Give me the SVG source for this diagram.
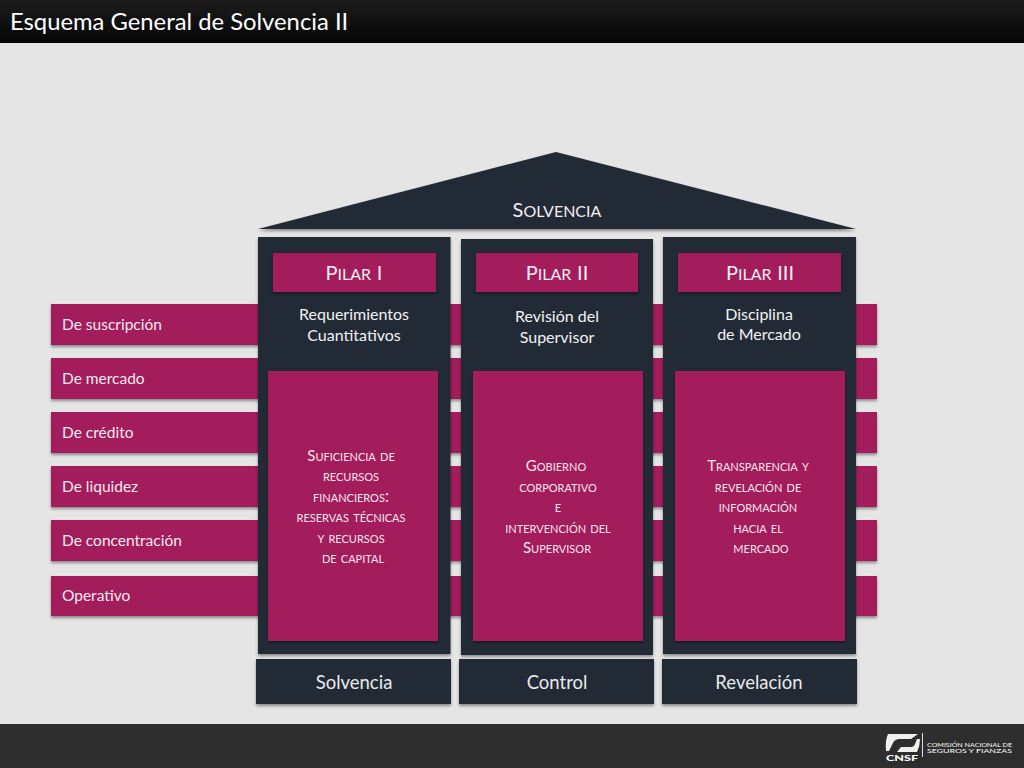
<svg xmlns="http://www.w3.org/2000/svg" width="1024" height="768" viewBox="0 0 1024 768">
<style>
text{font-family:Lato,"Liberation Sans",sans-serif;fill:#fff}
.m{text-anchor:middle}
.lab{font-size:15.5px;fill:#f4eaf0}
.sub{font-size:16px;fill:#f2f3f4}
.cap{font-variant:small-caps;font-size:22.500px;fill:#f4eef2}
.pil{font-variant:small-caps;font-size:22.500px;fill:#f4eef2}
.body{font-variant:small-caps;font-size:16.400px;fill:#f5e6ee}
.i{font-size:15px}
.ic{font-size:20px}
.foot{font-size:18.500px;fill:#e8eaec}
.mag{fill:#a31a5c}
.dark{fill:#212a35}
.s{filter:url(#sh)}
</style>
<defs>
<filter id="sh" x="-10%" y="-10%" width="120%" height="125%"><feDropShadow dx="0" dy="2" stdDeviation="1.6" flood-color="#000" flood-opacity=".4"/></filter>
<linearGradient id="hd" x1="0" y1="0" x2="0" y2="1"><stop offset="0" stop-color="#1c1c1c"/><stop offset="1" stop-color="#050505"/></linearGradient>
</defs>
<rect width="1024" height="768" fill="#e5e5e5"/>
<g id="header"><rect width="1024" height="43" fill="url(#hd)"/><text x="10" y="30" font-size="23.800" fill="#f5f5f5">Esquema General de Solvencia II</text></g>
<g id="footer"><rect y="724" width="1024" height="44" fill="#2e2e2e"/>
<path d="M888 734H918L911 739H899Q894 739 892 745L889 751H886Q885 740 888 734ZM917 739H920Q920 746 917 752H897L901 747H911Q914 747 915 744Z" fill="#f0f0f0"/>
<rect x="922" y="733" width="1" height="24" fill="#ddd"/>
<text x="886" y="761" font-size="7.500" font-weight="900" fill="#f0f0f0" textLength="32" lengthAdjust="spacingAndGlyphs">CNSF</text>
<text x="927" y="747" font-size="6.500" fill="#c8c8c8" textLength="85" lengthAdjust="spacingAndGlyphs">COMISIÓN NACIONAL DE</text>
<text x="927" y="753" font-size="6.500" fill="#c8c8c8" textLength="85" lengthAdjust="spacingAndGlyphs">SEGUROS Y FIANZAS</text>
</g>
<g id="risk-bars">
<g id="risk-suscripcion"><rect class="mag s" x="51" y="304" width="826" height="41"/><text class="lab" x="62" y="330">De suscripción</text></g>
<g id="risk-mercado"><rect class="mag s" x="51" y="358" width="826" height="41"/><text class="lab" x="62" y="384">De mercado</text></g>
<g id="risk-credito"><rect class="mag s" x="51" y="412" width="826" height="41"/><text class="lab" x="62" y="438">De crédito</text></g>
<g id="risk-liquidez"><rect class="mag s" x="51" y="466" width="826" height="41"/><text class="lab" x="62" y="492">De liquidez</text></g>
<g id="risk-concentracion"><rect class="mag s" x="51" y="520" width="826" height="41"/><text class="lab" x="62" y="546">De concentración</text></g>
<g id="risk-operativo"><rect class="mag s" x="51" y="576" width="826" height="40"/><text class="lab" x="62" y="601">Operativo</text></g>
</g>
<g id="roof"><polygon class="dark s" points="258,229 556,152 856,229"/><text class="cap m" x="557" y="217"><tspan class="ic">S</tspan>olvencia</text></g>
<g id="pilar-1">
<rect class="dark s" x="258" y="237" width="192.500" height="417"/>
<rect class="mag s" x="273" y="253" width="163" height="39"/><text class="pil m" x="354" y="280"><tspan class="ic">P</tspan>ilar <tspan class="ic">I</tspan></text>
<text class="sub m" x="354" y="320">Requerimientos</text><text class="sub m" x="354" y="341">Cuantitativos</text>
<rect class="mag s" x="268" y="371" width="170" height="270"/>
<text class="body m" x="351" y="461"><tspan class="i">S</tspan>uficiencia de</text><text class="body m" x="351" y="481">recursos</text><text class="body m" x="351" y="502">financieros:</text><text class="body m" x="351" y="522">reservas técnicas</text><text class="body m" x="351" y="543">y recursos</text><text class="body m" x="353" y="563">de capital</text>
</g>
<g id="pilar-2">
<rect class="dark s" x="461" y="239" width="192" height="416"/>
<rect class="mag s" x="476" y="253" width="162" height="39"/><text class="pil m" x="557" y="280"><tspan class="ic">P</tspan>ilar <tspan class="ic">II</tspan></text>
<text class="sub m" x="557" y="322">Revisión del</text><text class="sub m" x="557" y="343">Supervisor</text>
<rect class="mag s" x="473" y="371" width="170" height="270"/>
<text class="body m" x="556" y="471"><tspan class="i">G</tspan>obierno</text><text class="body m" x="558" y="492">corporativo</text><text class="body m" x="558" y="512">e</text><text class="body m" x="558" y="533">intervención del</text><text class="body m" x="557" y="553"><tspan class="i">S</tspan>upervisor</text>
</g>
<g id="pilar-3">
<rect class="dark s" x="663" y="237" width="193" height="417"/>
<rect class="mag s" x="678" y="253" width="163" height="39"/><text class="pil m" x="760" y="280"><tspan class="ic">P</tspan>ilar <tspan class="ic">III</tspan></text>
<text class="sub m" x="759" y="320">Disciplina</text><text class="sub m" x="759" y="340">de Mercado</text>
<rect class="mag s" x="675" y="371" width="170" height="270"/>
<text class="body m" x="758" y="471"><tspan class="i">T</tspan>ransparencia y</text><text class="body m" x="758" y="492">revelación de</text><text class="body m" x="758" y="512">información</text><text class="body m" x="758" y="533">hacia el</text><text class="body m" x="761" y="553">mercado</text>
</g>
<g id="base-solvencia"><rect class="dark s" x="256" y="659" width="195" height="45"/><text class="foot m" x="354" y="689">Solvencia</text></g>
<g id="base-control"><rect class="dark s" x="459" y="659" width="195" height="45"/><text class="foot m" x="557" y="689">Control</text></g>
<g id="base-revelacion"><rect class="dark s" x="662" y="659" width="195" height="45"/><text class="foot m" x="759" y="689">Revelación</text></g>
<g id="connectors"/>
</svg>
